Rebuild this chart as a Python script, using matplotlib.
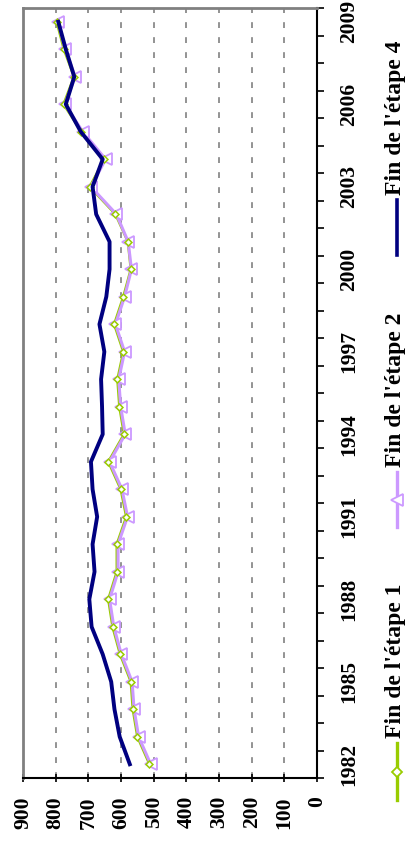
import numpy as np
import matplotlib
matplotlib.use('Agg')
import matplotlib.pyplot as plt

# chart is drawn turned on its side: values run right-to-left, years bottom-to-top
years = list(range(1982, 2010))
etape1 = [513, 550, 564, 570, 603, 626, 639, 613, 613, 584, 601, 639, 591, 605,
          611, 593, 621, 593, 570, 579, 617, 696, 651, 721, 776, 744, 775, 797]
etape2 = [509, 546, 560, 566, 599, 622, 635, 609, 609, 580, 597, 635, 587, 601,
          607, 589, 617, 589, 568, 578, 614, 692, 647, 717, 772, 740, 771, 793]
etape4 = [573, 604, 620, 630, 656, 690, 697, 681, 687, 673, 687, 692, 656, 658,
          661, 651, 666, 645, 635, 635, 676, 687, 656, 723, 769, 743, 769, 792]
value_ticks = list(range(0, 1000, 100))
labels = ["Fin de l'étape 1", "Fin de l'étape 2", "Fin de l'étape 4"]

green = '#99CC00'
purple = '#CC99FF'
navy = '#000080'
font = 'Liberation Serif'

W, H = 411, 843
fig = plt.figure(figsize=(W / 100, H / 100), dpi=100)
ax = fig.add_axes([23 / W, (H - 778) / H, 294 / W, 770 / H])

pos = np.arange(len(years))
ax.plot(etape1, pos, color=green, lw=1.8, zorder=3)
ax.plot(etape2, pos, color=purple, lw=2.2, marker='<', ms=9, mfc='white',
        mec=purple, mew=1.3, zorder=4)
ax.plot(etape1, pos, ls='none', marker='D', ms=3.5, mfc='white', mec=green,
        mew=1.1, zorder=5)
ax.plot(etape4, pos, color=navy, lw=2.8, zorder=6)

ax.set_xlim(900, 0)
ax.set_ylim(-0.5, len(years) - 0.5)

# value axis (bottom)
ax.set_xticks(value_ticks)
ax.set_xticklabels([str(v) for v in value_ticks], rotation=90, fontsize=15.5,
                   fontweight='bold', family=font, va='top', ha='center')
ax.tick_params(axis='x', direction='inout', length=6, width=1.2, pad=10)
for v in value_ticks[1:-1]:
    ax.axvline(v, color='#808080', lw=1.2, ls=(0, (3.5, 5.5)), zorder=1)

# year axis (right)
ax.yaxis.tick_right()
ax.set_yticks(np.arange(-0.5, len(years), 1.0))
ax.set_yticklabels([])
ax.tick_params(axis='y', which='major', direction='out', length=5, width=1.2)
ax.set_yticks(pos[::3], minor=True)
ax.set_yticklabels([str(y) for y in years[::3]], minor=True, rotation=90,
                   fontsize=15.5, fontweight='bold', family=font,
                   ha='left', va='center')
ax.tick_params(axis='y', which='minor', length=0, pad=16)

for s in ['top', 'left']:
    ax.spines[s].set_color('#808080')
    ax.spines[s].set_linewidth(2)
for s in ['bottom', 'right']:
    ax.spines[s].set_color('black')
    ax.spines[s].set_linewidth(1.5)

# legend, rotated by hand
lg = fig.add_axes([0, 0, 1, 1])
lg.set_xlim(0, W)
lg.set_ylim(H, 0)
lg.axis('off')
lg.plot([397, 397], [743, 800], color=green, lw=2.4)
lg.plot([397], [772], marker='D', ms=5, mfc='white', mec=green, mew=1.3)
lg.plot([397, 397], [472, 527], color=purple, lw=2.4)
lg.plot([397], [500], marker='<', ms=9, mfc='white', mec=purple, mew=1.3)
lg.plot([397, 397], [200, 255], color=navy, lw=2.6)
for txt, y0 in zip(labels, [738, 467, 195]):
    lg.text(395, y0, txt, rotation=90, ha='center', va='bottom', fontsize=17,
            fontweight='bold', family=font)

fig.savefig('out.png', dpi=100)
